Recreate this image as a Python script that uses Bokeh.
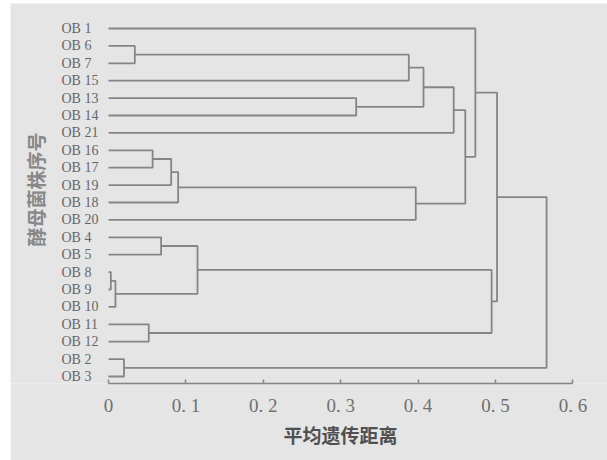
import math
from bokeh.plotting import figure
from bokeh.models import Range1d, FixedTicker, Title, Spacer
from bokeh.layouts import row, column
from bokeh.core.properties import value
from bokeh.embed import file_html
from bokeh.resources import INLINE

# ---- data ----
leaves = ["OB 1", "OB 6", "OB 7", "OB 15", "OB 13", "OB 14", "OB 21",
          "OB 16", "OB 17", "OB 19", "OB 18", "OB 20", "OB 4", "OB 5",
          "OB 8", "OB 9", "OB 10", "OB 11", "OB 12", "OB 2", "OB 3"]
# merges: (child a, child b, height); leaves are 0..20, merge k gets id 21+k
merge_a = [1, 21, 4, 22, 24, 7, 26, 27, 28, 25, 0, 12, 14, 33, 32, 17, 35, 19, 31, 39]
merge_b = [2, 3, 5, 23, 6, 8, 9, 10, 11, 29, 30, 13, 15, 16, 34, 18, 36, 20, 37, 38]
merge_h = [0.034, 0.388, 0.320, 0.407, 0.446, 0.057, 0.081, 0.090, 0.397, 0.461,
           0.474, 0.068, 0.003, 0.009, 0.115, 0.052, 0.495, 0.020, 0.502, 0.566]
x_ticks = [0, 0.1, 0.2, 0.3, 0.4, 0.5, 0.6]
x_tick_labels = ["0", "0. 1", "0. 2", "0. 3", "0. 4", "0. 5", "0. 6"]
x_title = "平均遗传距离"
y_title = "酵母菌株序号"

BG = "#e5e5e5"
LINE = "#858585"

# ---- dendrogram geometry from the linkage ----
n = len(leaves)
node_x = [0.0] * n
node_y = [float(i) for i in range(n)]
xs, ys = [], []
for a, b, h in zip(merge_a, merge_b, merge_h):
    xa, ya, xb, yb = node_x[a], node_y[a], node_x[b], node_y[b]
    xs.append([xa, h, h, xb])
    ys.append([ya, ya, yb, yb])
    node_x.append(h)
    node_y.append((ya + yb) / 2.0)

PX = 774.0    # pixels per unit distance
PY = 17.4     # pixels per leaf row
X0, X1 = -98 / PX, 499 / PX
Y_BOT, Y_TOP = 355 / PY, -25 / PY

p = figure(width=597, height=457, output_backend="svg", toolbar_location=None,
           x_range=Range1d(X0, X1), y_range=Range1d(Y_BOT, Y_TOP),
           min_border_left=0, min_border_right=0, min_border_top=0, min_border_bottom=77,
           background_fill_color=BG, border_fill_color=BG, outline_line_color=None)
p.grid.visible = False
p.yaxis.visible = False

p.multi_line(xs, ys, line_color=LINE, line_width=1.8)

# leaf labels
p.text(x=[-47 / PX] * n, y=list(range(n)), text=leaves, text_align="left",
       text_baseline="middle", text_font=value("Liberation Serif"),
       text_font_size="14px", text_color="#666666")

# y title
p.text(x=[-73 / PX], y=[161 / PY], text=[y_title], angle=math.pi / 2,
       text_align="center", text_baseline="middle", text_font=value("Noto Sans CJK SC"),
       text_font_style="bold", text_font_size="19px", text_color="#888888")

# x axis
xa = p.xaxis[0]
xa.bounds = (0, 0.6)
xa.ticker = FixedTicker(ticks=x_ticks)
xa.major_label_overrides = {t: l for t, l in zip(x_ticks, x_tick_labels)}
xa.minor_tick_line_color = None
xa.major_tick_in = 4
xa.major_tick_out = 0
xa.axis_line_color = LINE
xa.axis_line_width = 1.6
xa.major_tick_line_color = LINE
xa.major_tick_line_width = 1.5
xa.major_label_standoff = 11
xa.major_label_text_font = "Liberation Serif"
xa.major_label_text_font_size = "19px"
xa.major_label_text_color = "#707070"

p.add_layout(Title(text=x_title, align="left", offset=273, standoff=0,
                   text_font="Noto Sans CJK SC", text_font_style="bold",
                   text_font_size="19px", text_color="#505050"), "below")

page = column(Spacer(width=607, height=3), row(Spacer(width=10, height=457), p))
open("out.html", "w").write(file_html(page, INLINE))
